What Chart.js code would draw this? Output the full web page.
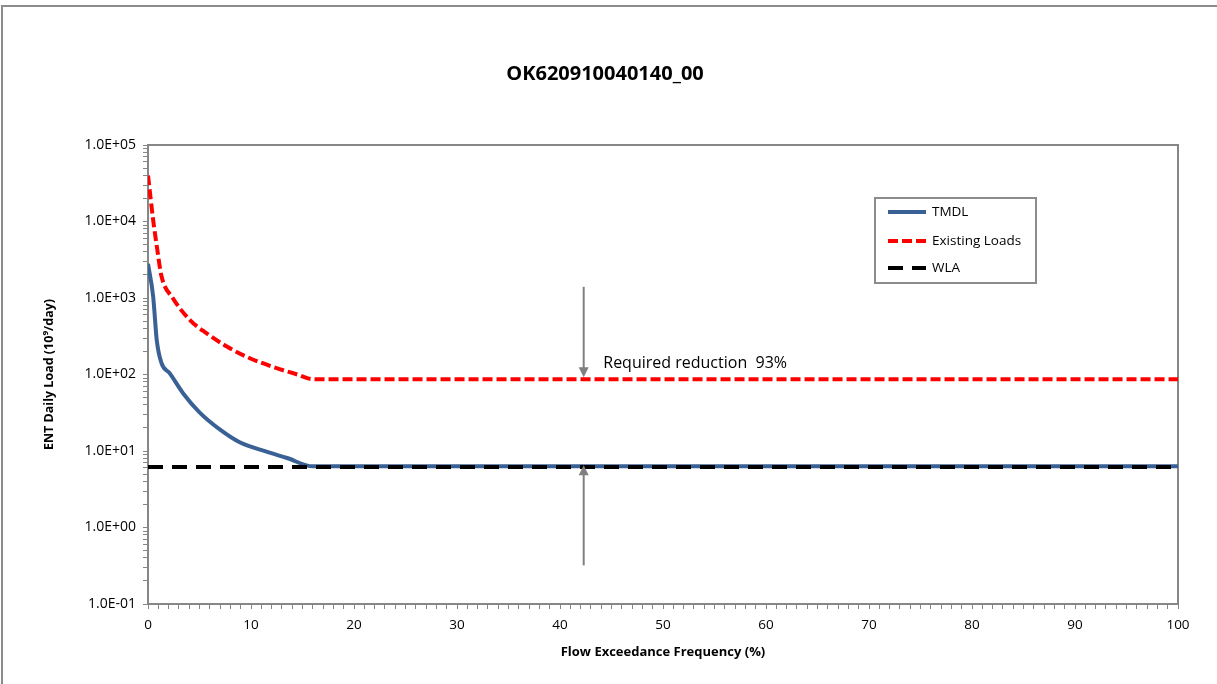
<!DOCTYPE html>
<html><head><meta charset="utf-8">
<script src="https://cdn.jsdelivr.net/npm/chart.js@4.4.1/dist/chart.umd.min.js"></script>
<style>
html,body{margin:0;padding:0;background:#fff;overflow:hidden}
#wrap{position:relative;width:1217px;height:684px}
#frame{position:absolute;left:1px;top:5px;width:1300px;height:700px;border-left:2px solid #8c8c8c;border-top:2px solid #8c8c8c;pointer-events:none}
canvas{position:absolute;left:0;top:0}
</style></head><body>
<div id="wrap"><canvas id="c" width="1217" height="684"></canvas><div id="frame"></div></div>
<script>
// ---- data ----
const chartTitle = 'OK620910040140_00';
const xAxisTitle = 'Flow Exceedance Frequency (%)';
const yAxisTitle = 'ENT Daily Load (10\u2079/day)';
const seriesNames = ['TMDL', 'Existing Loads', 'WLA'];
const xTickLabels = ['0','10','20','30','40','50','60','70','80','90','100'];
const yTickLabels = ['1.0E-01','1.0E+00','1.0E+01','1.0E+02','1.0E+03','1.0E+04','1.0E+05'];

const tmdlX = [0, 0.5, 0.85, 1.3, 2.1, 3.4, 5.0, 7.0, 8.9, 11.5, 13.5, 16.0, 100];
const tmdlY = [2800, 1050, 280, 142, 104, 57, 32, 19, 13, 9.8, 8.1, 6.3, 6.3];

const existingX = [0, 0.5, 0.9, 1.3, 2.4, 4.1, 5.7, 7.7, 9.6, 12.1, 14.5, 16.0, 100];
const existingY = [40000, 10500, 4300, 1950, 1000, 510, 345, 230, 170, 126, 100, 87, 87];

const wlaX = [0, 100];
const wlaY = [6.2, 6.2];

const reductionLabel = 'Required reduction  93%';
const arrowX = 42.3;
const arrowDownFrom = 1400, arrowDownTo = 87;
const arrowUpFrom = 0.32, arrowUpTo = 6.3;
const labelX = 44.2, labelY = 140;

// ---- chart ----
const FONT = '"Open Sans", "Noto Sans", sans-serif';
const toPts = (xs, ys) => xs.map((x, i) => ({x, y: ys[i]}));

const overlay = {
  id: 'overlay',
  beforeDatasetsDraw(chart) {
    const {ctx, chartArea: a} = chart;
    ctx.save();
    ctx.strokeStyle = '#868686'; ctx.lineWidth = 2;
    ctx.beginPath();
    ctx.moveTo(a.left, a.top); ctx.lineTo(a.right, a.top); ctx.lineTo(a.right, a.bottom);
    ctx.stroke();
    ctx.restore();
  },
  afterDraw(chart) {
    const {ctx} = chart;
    const xs = chart.scales.x, ys = chart.scales.y;
    ctx.save();
    // title
    ctx.fillStyle = '#000';
    ctx.font = 'bold 20px ' + FONT;
    ctx.textAlign = 'center'; ctx.textBaseline = 'middle';
    ctx.fillText(chartTitle, 605, 74);

    // arrows
    const ax = xs.getPixelForValue(arrowX);
    function arrow(y0, y1) {
      const dir = y1 > y0 ? 1 : -1;
      ctx.strokeStyle = '#808080'; ctx.fillStyle = '#808080'; ctx.lineWidth = 2;
      ctx.beginPath(); ctx.moveTo(ax, y0); ctx.lineTo(ax, y1 - dir * 9); ctx.stroke();
      ctx.beginPath(); ctx.moveTo(ax, y1); ctx.lineTo(ax - 5, y1 - dir * 10); ctx.lineTo(ax + 5, y1 - dir * 10); ctx.closePath(); ctx.fill();
    }
    arrow(ys.getPixelForValue(arrowDownFrom), ys.getPixelForValue(arrowDownTo) - 2);
    arrow(ys.getPixelForValue(arrowUpFrom), ys.getPixelForValue(arrowUpTo) - 1);

    ctx.fillStyle = '#000';
    ctx.font = '16px ' + FONT;
    ctx.textAlign = 'left'; ctx.textBaseline = 'middle';
    ctx.fillText(reductionLabel, xs.getPixelForValue(labelX), ys.getPixelForValue(labelY));

    // legend
    const L = {x: 875, y: 198, w: 161, h: 85};
    ctx.fillStyle = '#fff'; ctx.fillRect(L.x, L.y, L.w, L.h);
    ctx.strokeStyle = '#8c8c8c'; ctx.lineWidth = 2; ctx.strokeRect(L.x, L.y, L.w, L.h);
    const rows = [212, 241, 268];
    chart.data.datasets.forEach((ds, i) => {
      const y = rows[i];
      ctx.save();
      ctx.strokeStyle = ds.borderColor; ctx.lineWidth = ds.borderWidth;
      ctx.setLineDash(ds.borderDash || []);
      ctx.beginPath(); ctx.moveTo(888, y); ctx.lineTo(926, y); ctx.stroke();
      ctx.restore();
      ctx.fillStyle = '#000'; ctx.font = '13.5px ' + FONT;
      ctx.textAlign = 'left'; ctx.textBaseline = 'middle';
      ctx.fillText(ds.label, 932, y);
    });
    ctx.restore();
  }
};

new Chart(document.getElementById('c'), {
  type: 'line',
  data: {
    datasets: [
      {label: seriesNames[0], data: toPts(tmdlX, tmdlY), borderColor: '#3A6195', borderWidth: 4, pointRadius: 0, cubicInterpolationMode: 'monotone', order: 2},
      {label: seriesNames[1], data: toPts(existingX, existingY), borderColor: '#FF0000', borderWidth: 4, borderDash: [10, 4], pointRadius: 0, cubicInterpolationMode: 'monotone', order: 1},
      {label: seriesNames[2], data: toPts(wlaX, wlaY), borderColor: '#000000', borderWidth: 4, borderDash: [15, 9], pointRadius: 0, order: 0}
    ]
  },
  options: {
    responsive: false,
    animation: false,
    layout: {padding: {left: 0, top: 145, right: 39, bottom: 0}},
    plugins: {legend: {display: false}, title: {display: false}, tooltip: {enabled: false}},
    scales: {
      x: {
        type: 'linear', min: 0, max: 100,
        afterBuildTicks(scale) { const t = []; for (let v = 0; v <= 100; v++) t.push({value: v}); scale.ticks = t; },
        afterFit(scale) { scale.height = 80; },
        ticks: {autoSkip: false, maxRotation: 0, padding: 8, color: '#000', font: {family: FONT, size: 13.5},
          callback: v => (v % 10 === 0 ? xTickLabels[v / 10] : '')},
        grid: {drawOnChartArea: false, drawTicks: true, tickLength: 5, color: '#868686'},
        border: {display: true, color: '#868686', width: 2},
        title: {display: true, text: xAxisTitle, color: '#000', font: {family: FONT, size: 13, weight: 'bold'}, padding: {top: 24, bottom: 24}}
      },
      y: {
        type: 'logarithmic', min: 0.1, max: 100000,
        afterBuildTicks(scale) {
          const t = [];
          for (let e = -1; e < 5; e++) for (let s = 1; s < 10; s++) t.push({value: s * Math.pow(10, e)});
          t.push({value: 100000});
          scale.ticks = t;
        },
        afterFit(scale) { scale.width = 148; },
        ticks: {autoSkip: false, padding: 7, color: '#000', font: {family: FONT, size: 14},
          callback: v => {
            const e = Math.log10(v);
            if (Math.abs(e - Math.round(e)) < 1e-9) return yTickLabels[Math.round(e) + 1];
            return '';
          }},
        grid: {drawOnChartArea: false, drawTicks: true, tickLength: 5, color: '#868686'},
        border: {display: true, color: '#868686', width: 2},
        title: {display: true, text: yAxisTitle, color: '#000', font: {family: FONT, size: 12.5, weight: 'bold'}, padding: {top: 42, bottom: 42}}
      }
    }
  },
  plugins: [overlay]
});
</script>
</body></html>
